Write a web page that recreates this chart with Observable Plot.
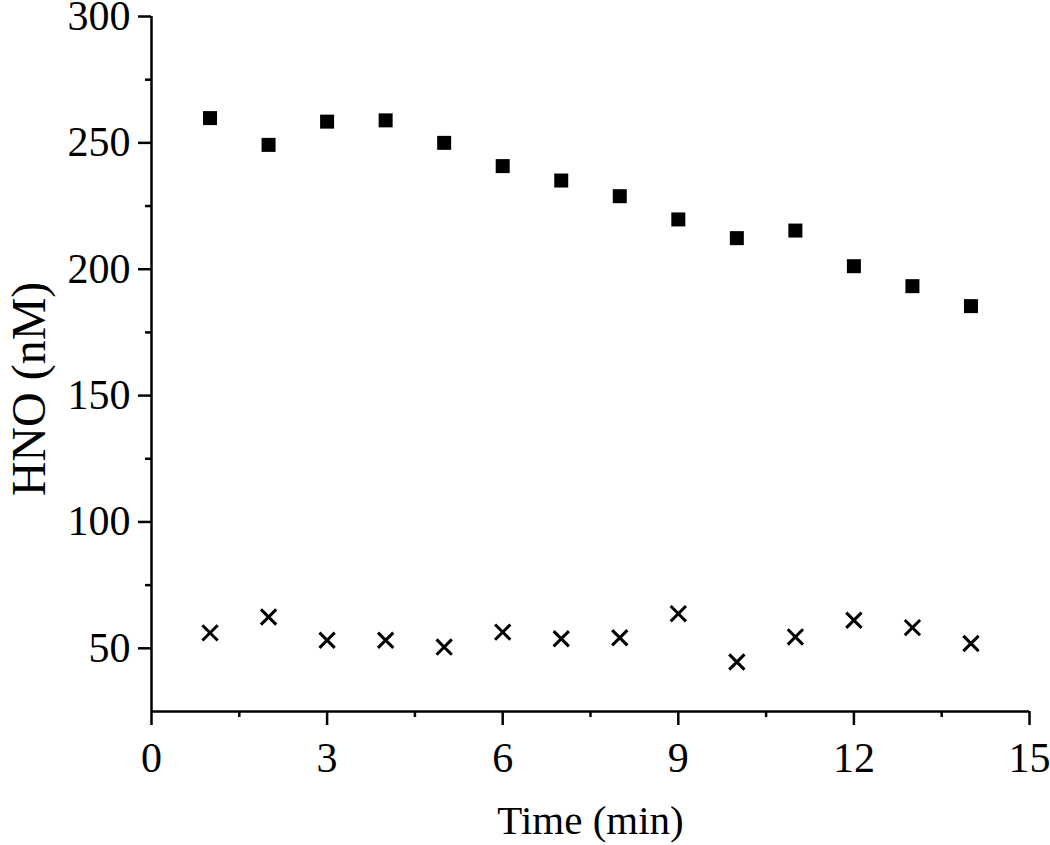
<!DOCTYPE html>
<html>
<head>
<meta charset="utf-8">
<script src="https://cdn.jsdelivr.net/npm/d3@7"></script>
<script src="https://cdn.jsdelivr.net/npm/@observablehq/plot@0.6"></script>
<style>
  html, body { margin: 0; padding: 0; background: #fff; }
  #chart svg { display: block; font-family: "Liberation Serif", "Times New Roman", serif; }
</style>
</head>
<body>
<div id="chart"></div>
<script>
// Data
const time = [1, 2, 3, 4, 5, 6, 7, 8, 9, 10, 11, 12, 13, 14];
const seriesSquare = [259.8, 249.2, 258.4, 258.9, 250.0, 240.8, 235.1, 228.9, 219.7, 212.3, 215.3, 201.2, 193.3, 185.4];
const seriesCross = [56.1, 62.4, 53.2, 53.2, 50.5, 56.4, 53.8, 54.2, 63.7, 44.6, 54.5, 61.1, 58.2, 51.9];

const xMajorTicks = [0, 3, 6, 9, 12, 15];
const xMinorTicks = [1.5, 4.5, 7.5, 10.5, 13.5];
const yMajorTicks = [50, 100, 150, 200, 250, 300];
const yMinorTicks = [75, 125, 175, 225, 275];

const xLabel = "Time (min)";
const yLabel = "HNO (nM)";

const squares = time.map((t, i) => ({t, v: seriesSquare[i]}));
const crosses = time.map((t, i) => ({t, v: seriesCross[i]}));

const chart = Plot.plot({
  width: 1050,
  height: 845,
  marginLeft: 151,
  marginRight: 21,
  marginTop: 16,
  marginBottom: 134,
  style: {background: "#fff", color: "#000", fontFamily: "Liberation Serif, Times New Roman, serif"},
  x: {domain: [0, 15]},
  y: {domain: [25, 300]},
  marks: [
    Plot.axisX({ticks: xMajorTicks, tickSize: 14, tickPadding: 17, fontSize: 42, strokeWidth: 2.5, label: null, tickFormat: d => String(d)}),
    Plot.axisX({ticks: xMinorTicks, tickSize: 6, text: null, strokeWidth: 2.5, label: null}),
    Plot.axisY({ticks: yMajorTicks, tickSize: 13, tickPadding: 8, fontSize: 42, strokeWidth: 2.5, label: null, tickFormat: d => String(d)}),
    Plot.axisY({ticks: yMinorTicks, tickSize: 6, text: null, strokeWidth: 2.5, label: null}),
    Plot.ruleX([0], {stroke: "#000", strokeWidth: 2.5}),
    Plot.ruleY([25], {stroke: "#000", strokeWidth: 2.5}),
    Plot.dot(squares, {x: "t", y: "v", symbol: "square", r: 7.9, fill: "#000", stroke: "none"}),
    Plot.dot(crosses, {x: "t", y: "v", symbol: "times", r: 7, stroke: "#000", strokeWidth: 3, fill: "none"}),
    Plot.text([xLabel], {text: d => d, frameAnchor: "bottom", textAnchor: "middle", dy: 109, fontSize: 41, lineAnchor: "middle"}),
    Plot.text([yLabel], {text: d => d, frameAnchor: "left", textAnchor: "middle", rotate: -90, dx: -122, dy: 25, fontSize: 48, lineAnchor: "middle"})
  ]
});
document.getElementById("chart").appendChild(chart);
</script>
</body>
</html>
